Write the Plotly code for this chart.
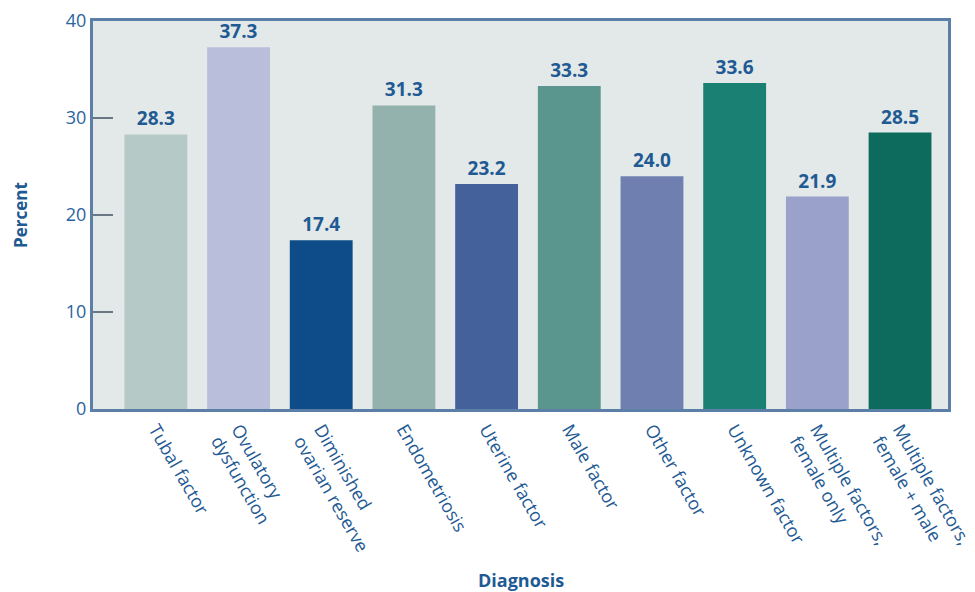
import plotly.graph_objects as go

categories = ["Tubal factor", "Ovulatory<br>dysfunction", "Diminished<br>ovarian reserve",
              "Endometriosis", "Uterine factor", "Male factor", "Other factor",
              "Unknown factor", "Multiple factors,<br>female only", "Multiple factors,<br>female + male"]
values = [28.3, 37.3, 17.4, 31.3, 23.2, 33.3, 24.0, 33.6, 21.9, 28.5]
bar_colors = ["#b5c9c6", "#b9bfdb", "#0e4c89", "#93b2ae", "#44619b",
              "#5a968d", "#6f80b0", "#1a8073", "#9aa2cc", "#0d6b5e"]
y_ticks = [0, 10, 20, 30, 40]

text_blue = "#1f5a93"

fig = go.Figure(go.Bar(
    x=list(range(len(categories))), y=values,
    marker=dict(color=bar_colors, line=dict(width=0)),
    width=0.76,
    text=[f"{v:.1f}" for v in values], textposition="outside",
    textfont=dict(family="Open Sans", size=19, color=text_blue, weight="bold"),
    cliponaxis=False,
))

W, H = 975, 592
L, R, T, B = 93, 27, 21, 183
pw, ph = W - L - R, H - T - B

fig.update_layout(
    width=W, height=H,
    margin=dict(l=L, r=R, t=T, b=B),
    paper_bgcolor="white", plot_bgcolor="#e3e9e9",
    showlegend=False,
    font=dict(family="Open Sans", color=text_blue),
    xaxis=dict(
        tickmode="array", tickvals=list(range(len(categories))), ticktext=categories,
        range=[-0.76, 9.58], tickangle=60, automargin=False,
        ticklabeloverflow="allow",
        tickfont=dict(size=18, color=text_blue),
        showline=True, linecolor="#5b7fa6", linewidth=3, mirror=True,
        showgrid=False, ticks="", zeroline=False,
    ),
    yaxis=dict(
        range=[0, 40], tickvals=y_ticks, automargin=False,
        tickfont=dict(size=18, color="#2a64a0"),
        ticks="inside", ticklen=20, tickwidth=2, tickcolor="#6b7684",
        showline=True, linecolor="#5b7fa6", linewidth=3, mirror=True,
        showgrid=False, zeroline=False,
    ),
    annotations=[
        dict(text="<b>Percent</b>", x=(20 - L) / pw, y=(T + ph - 215) / ph,
             xref="paper", yref="paper", xanchor="center", yanchor="middle",
             showarrow=False, textangle=-90, font=dict(size=17, color=text_blue)),
        dict(text="<b>Diagnosis</b>", x=(521 - L) / pw, y=(T + ph - 580) / ph,
             xref="paper", yref="paper", xanchor="center", yanchor="middle",
             showarrow=False, font=dict(size=18, color=text_blue)),
    ],
)

fig.write_html("out.html")
